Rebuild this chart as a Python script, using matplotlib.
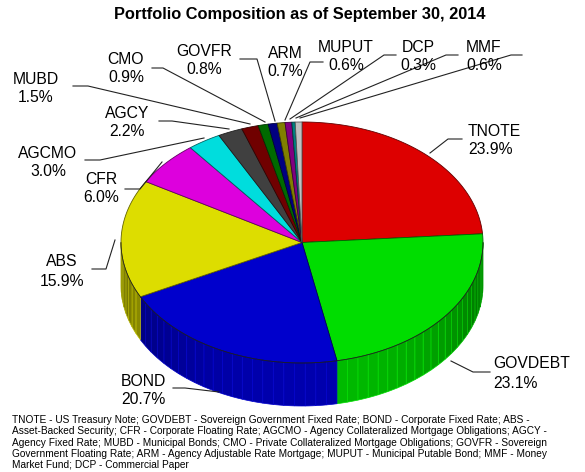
import numpy as np
import matplotlib
matplotlib.use("Agg")
import matplotlib.pyplot as plt
from matplotlib.patches import Polygon
from matplotlib.colors import to_rgb

# slice data, clockwise from 12 o'clock
names = ["TNOTE", "GOVDEBT", "BOND", "ABS", "CFR", "AGCMO", "AGCY",
         "MUBD", "CMO", "GOVFR", "ARM", "MUPUT", "DCP", "MMF"]
pct = [23.9, 23.1, 20.7, 15.9, 6.0, 3.0, 2.2, 1.5, 0.9, 0.8, 0.7, 0.6, 0.3, 0.6]
colors = ["#dd0000", "#00dd00", "#0000cc", "#dddd00", "#dd00dd", "#00dddd",
          "#404040", "#700000", "#006a00", "#000080", "#808000", "#800080",
          "#008080", "#c0c0c0"]

title = "Portfolio Composition as of September 30, 2014"
footnote = [
    "TNOTE - US Treasury Note; GOVDEBT - Sovereign Government Fixed Rate; BOND - Corporate Fixed Rate; ABS -",
    "Asset-Backed Security; CFR - Corporate Floating Rate; AGCMO - Agency Collateralized Mortgage Obligations; AGCY -",
    "Agency Fixed Rate; MUBD - Municipal Bonds; CMO - Private Collateralized Mortgage Obligations; GOVFR - Sovereign",
    "Government Floating Rate; ARM - Agency Adjustable Rate Mortgage; MUPUT - Municipal Putable Bond; MMF - Money",
    "Market Fund; DCP - Commercial Paper",
]

# label layout in pixels: (x, y line1, y line2, align, leader points)
layout = {
    "TNOTE":   (468, 131, 149, "left",   [(462, 139), (448, 139), (430, 153)]),
    "GOVDEBT": (493, 363, 383, "left",   [(490, 372), (473, 372), (451, 361)]),
    "BOND":    (143, 381, 400, "center", [(173, 388), (185, 388), (219, 392)]),
    "ABS":     (62, 262, 281, "center",  [(92, 269), (106, 269), (115, 240)]),
    "CFR":     (101, 180, 198, "center", [(125, 189), (140, 189), (162, 162)]),
    "AGCMO":   (48, 153, 172, "center",  [(85, 160), (100, 160), (204, 138)]),
    "AGCY":    (127, 113, 132, "center", [(159, 121), (172, 121), (229, 129)]),
    "MUBD":    (36, 79, 98, "center",    [(73, 86), (88, 86), (250, 124)]),
    "CMO":     (126, 60, 78, "center",   [(152, 68), (163, 68), (265, 122)]),
    "GOVFR":   (204, 51, 69, "center",   [(240, 59), (257, 59), (275, 121)]),
    "ARM":     (285, 54, 72, "center",   [(323, 62), (310, 62), (285, 120)]),
    "MUPUT":   (346, 47, 66, "center",   [(396, 55), (384, 55), (290, 119)]),
    "DCP":     (418, 47, 66, "center",   [(458, 55), (446, 55), (296, 118)]),
    "MMF":     (484, 47, 66, "center",   [(522, 55), (511, 55), (300, 118)]),
}

W, H = 585, 472
cx, cy, a, b, depth = 302, 242.5, 181, 120.5, 43


def pt(theta):
    # theta in degrees, clockwise from top
    t = np.radians(theta)
    return cx + a * np.sin(t), cy - b * np.cos(t)


def shade(c, f):
    return tuple(np.clip(np.array(to_rgb(c)) * f, 0, 1))


fig = plt.figure(figsize=(W / 100, H / 100), dpi=100)
ax = fig.add_axes([0, 0, 1, 1])
ax.set_xlim(0, W)
ax.set_ylim(H, 0)
ax.axis("off")

frac = np.array(pct) / np.sum(pct)
bounds = np.concatenate([[0], np.cumsum(frac) * 360])

# side wall (front half only)
for i, c in enumerate(colors):
    t0, t1 = max(bounds[i], 90), min(bounds[i + 1], 270)
    if t1 <= t0:
        continue
    n = max(1, int(np.ceil((t1 - t0) / 3.5)))
    edges = np.linspace(t0, t1, n + 1)
    for s0, s1 in zip(edges[:-1], edges[1:]):
        th = np.linspace(s0, s1, 4)
        top = [pt(t) for t in th]
        bot = [(x, y + depth) for x, y in top[::-1]]
        mid = np.radians((s0 + s1) / 2)
        f = 0.45 + 0.4 * max(-np.cos(mid), 0)
        ax.add_patch(Polygon(top + bot, closed=True, facecolor=shade(c, f),
                             edgecolor=shade(c, min(f + 0.25, 1.0)),
                             linewidth=0.5, zorder=1))

# top face
for i, c in enumerate(colors):
    th = np.linspace(bounds[i], bounds[i + 1], max(3, int(bounds[i + 1] - bounds[i]) * 2))
    verts = [(cx, cy)] + [pt(t) for t in th]
    ax.add_patch(Polygon(verts, closed=True, facecolor=c,
                         edgecolor=shade(c, 0.45), linewidth=0.6, zorder=2))

# dark rim between top and side
th = np.linspace(90, 270, 200)
rim = np.array([pt(t) for t in th])
ax.plot(rim[:, 0], rim[:, 1], color="#222222", lw=0.5, zorder=3)

# labels with leader lines
for name, p in zip(names, pct):
    x, y1, y2, ha, pts = layout[name]
    pts = np.array(pts)
    ax.plot(pts[:, 0], pts[:, 1], color="#222222", lw=0.8, zorder=4)
    ax.text(x, y1, name, ha=ha, va="center", fontsize=11.3,
            family="Liberation Sans", zorder=5)
    ax.text(x, y2, f"{p:.1f}%", ha=ha, va="center", fontsize=11.3,
            family="Liberation Sans", zorder=5)

ax.text(300, 15, title, ha="center", va="center", fontsize=11.8,
        fontweight="bold", family="Liberation Sans")

for k, line in enumerate(footnote):
    ax.text(12, 420 + k * 11.3, line, ha="left", va="center", fontsize=7.25,
            family="Liberation Sans")

fig.savefig("out.png", dpi=100)
